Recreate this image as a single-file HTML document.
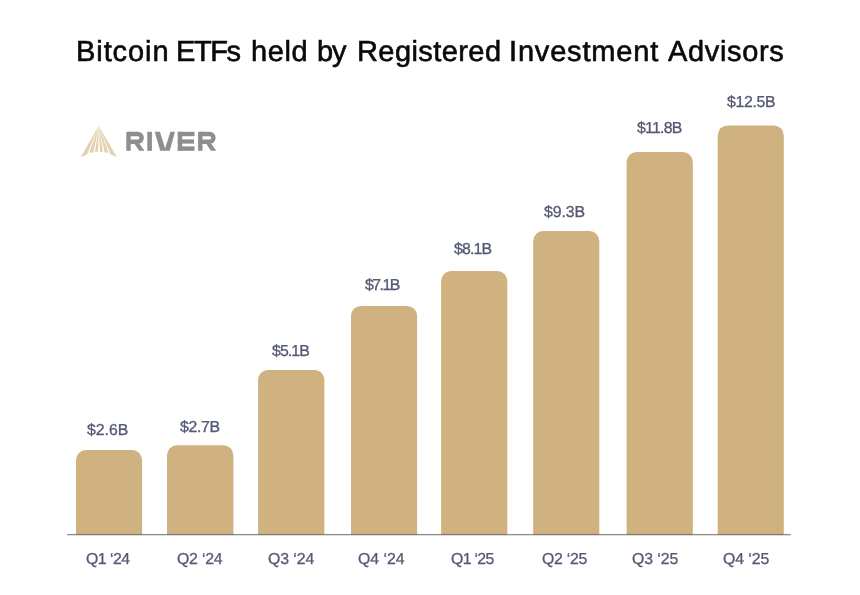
<!DOCTYPE html>
<html><head><meta charset="utf-8">
<style>
html,body{margin:0;padding:0;background:#fff;}
body{width:860px;height:595px;position:relative;overflow:hidden;font-family:"Liberation Sans",sans-serif;}
#title span{position:absolute;font-size:29px;line-height:normal;color:#0a0a0a;white-space:nowrap;-webkit-text-stroke:0.6px #0a0a0a;text-rendering:geometricPrecision;will-change:transform;}
.l{position:absolute;font-size:15.85px;line-height:normal;color:#545972;white-space:nowrap;-webkit-text-stroke:0.3px #545972;text-rendering:geometricPrecision;will-change:transform;}
svg{position:absolute;left:0;top:0;}
</style></head><body>
<svg width="860" height="595" viewBox="0 0 860 595">
<g fill="#d0b180">
<path d="M76.0 534.8 V460.1 A10 10 0 0 1 86.0 450.1 H132.1 A10 10 0 0 1 142.1 460.1 V534.8 Z"/>
<path d="M167.0 534.8 V455.2 A10 10 0 0 1 177.0 445.2 H223.4 A10 10 0 0 1 233.4 455.2 V534.8 Z"/>
<path d="M258.1 534.8 V379.9 A10 10 0 0 1 268.1 369.9 H314.4 A10 10 0 0 1 324.4 379.9 V534.8 Z"/>
<path d="M351.0 534.8 V315.9 A10 10 0 0 1 361.0 305.9 H407.1 A10 10 0 0 1 417.1 315.9 V534.8 Z"/>
<path d="M441.1 534.8 V281.0 A10 10 0 0 1 451.1 271.0 H497.3 A10 10 0 0 1 507.3 281.0 V534.8 Z"/>
<path d="M533.2 534.8 V241.0 A10 10 0 0 1 543.2 231.0 H589.3 A10 10 0 0 1 599.3 241.0 V534.8 Z"/>
<path d="M626.6 534.8 V162.1 A10 10 0 0 1 636.6 152.1 H682.8 A10 10 0 0 1 692.8 162.1 V534.8 Z"/>
<path d="M717.7 534.8 V135.4 A10 10 0 0 1 727.7 125.4 H773.8 A10 10 0 0 1 783.8 135.4 V534.8 Z"/>
</g>
<rect x="67.1" y="533.95" width="723.6" height="1.35" fill="rgba(70,70,70,0.6)"/>
<g fill="#e4d1b2">
<path d="M98.7 126 L80.7 157.1 L87.1 154.6 Z"/>
<path d="M98.7 126 L89.2 152.8 L93.4 152.5 Z"/>
<path d="M98.7 126 L95 151.8 L98 151.8 Z"/>
<path d="M98.7 126 L100 151.8 L103 151.8 Z"/>
<path d="M98.7 126 L104.7 152.5 L108.6 152.8 Z"/>
<path d="M98.7 126 L110.7 154.6 L116.9 157.1 Z"/>
</g>
<g fill="#8e8e8e">
<g transform="translate(126.3 131.8)">
<rect x="0" y="0" width="4.4" height="19"/>
<path d="M2.2 2.2 H11.5 A3.85 3.85 0 0 1 11.5 9.9 H2.2" fill="none" stroke="#8e8e8e" stroke-width="4.4"/>
<path d="M8.3 12.1 H13.4 L18.1 19 H12.8 Z"/>
</g>
<rect x="147.3" y="131.8" width="4.6" height="19"/>
<path d="M154.7 131.8 H159.9 L165.1 148.6 L170.4 131.8 H175 L169.7 150.8 H160.2 Z"/>
<g transform="translate(177.8 131.8)">
<rect x="0" y="0" width="4.4" height="19"/>
<rect x="0" y="0" width="16.7" height="4.4"/>
<rect x="0" y="7.6" width="16.2" height="4.2"/>
<rect x="0" y="14.6" width="16.7" height="4.4"/>
</g>
<g transform="translate(198.1 131.8)">
<rect x="0" y="0" width="4.4" height="19"/>
<path d="M2.2 2.2 H11.5 A3.85 3.85 0 0 1 11.5 9.9 H2.2" fill="none" stroke="#8e8e8e" stroke-width="4.4"/>
<path d="M8.3 12.1 H13.4 L18.1 19 H12.8 Z"/>
</g>
</g>
</svg>
<div id="title"><span style="left:75.7px;top:36px;letter-spacing:0.92px">Bitcoin</span><span style="left:176.1px;top:36px;letter-spacing:-1.4px">ETFs</span><span style="left:250.5px;top:36px;letter-spacing:0.59px">held</span><span style="left:316.9px;top:36px;letter-spacing:-1.09px">by</span><span style="left:356.6px;top:36px;letter-spacing:0.42px">Registered</span><span style="left:508.6px;top:36px;letter-spacing:0.82px">Investment</span><span style="left:668.1px;top:36px;letter-spacing:0.66px">Advisors</span></div>
<div class="l" style="left:87.2px;top:422px;letter-spacing:-0.0px">$2.6B</div>
<div class="l" style="left:179.6px;top:419px;letter-spacing:-0.35px">$2.7B</div>
<div class="l" style="left:272.4px;top:343px;letter-spacing:-0.9px">$5.1B</div>
<div class="l" style="left:364.9px;top:277px;letter-spacing:-1.54px">$7.1B</div>
<div class="l" style="left:454.3px;top:241px;letter-spacing:-0.82px">$8.1B</div>
<div class="l" style="left:544.4px;top:204px;letter-spacing:-0.1px">$9.3B</div>
<div class="l" style="left:637.2px;top:120px;letter-spacing:-0.72px">$11.8B</div>
<div class="l" style="left:726.9px;top:94px;letter-spacing:-0.33px">$12.5B</div>
<div class="l" style="left:86.2px;top:551px;letter-spacing:-0.52px">Q1 ‘24</div>
<div class="l" style="left:177.2px;top:551px;letter-spacing:-0.2px">Q2 ‘24</div>
<div class="l" style="left:267.6px;top:551px;letter-spacing:-0.08px">Q3 ‘24</div>
<div class="l" style="left:358.1px;top:551px;letter-spacing:-0.04px">Q4 ‘24</div>
<div class="l" style="left:451.4px;top:551px;letter-spacing:-0.68px">Q1 ‘25</div>
<div class="l" style="left:542.1px;top:551px;letter-spacing:-0.28px">Q2 ‘25</div>
<div class="l" style="left:632.3px;top:551px;letter-spacing:-0.08px">Q3 ‘25</div>
<div class="l" style="left:722.5px;top:551px;letter-spacing:-0.08px">Q4 ‘25</div>
</body></html>
